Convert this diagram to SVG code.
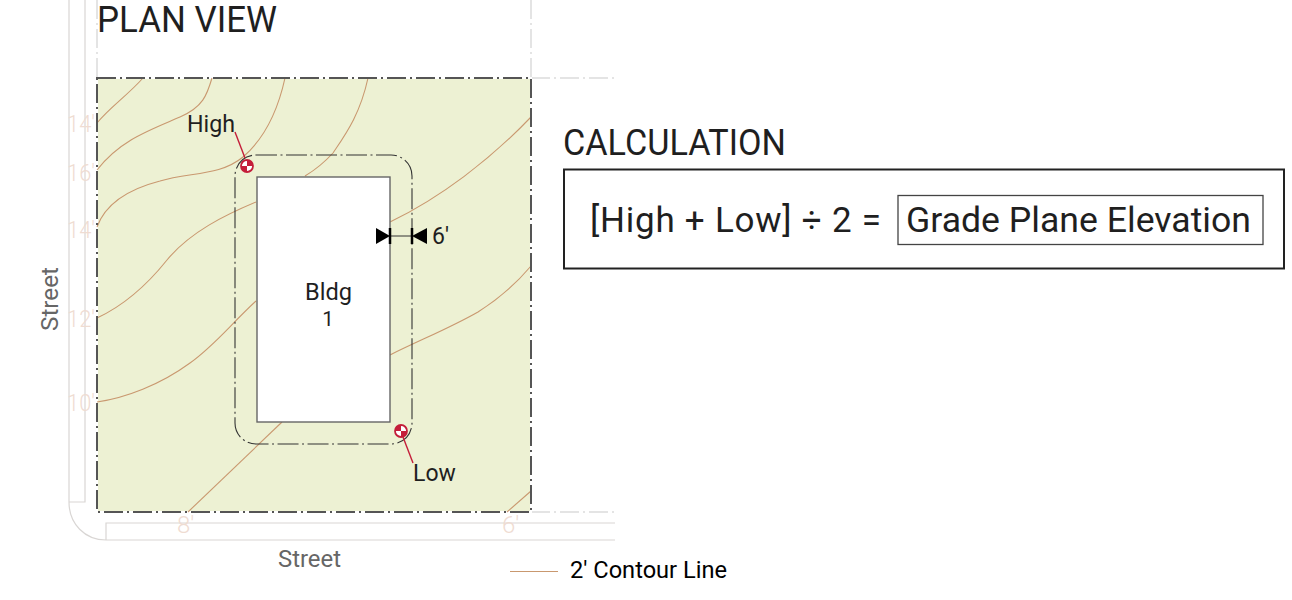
<svg xmlns="http://www.w3.org/2000/svg" width="1292" height="600" viewBox="0 0 1292 600">
<style>
text{font-family:"Roboto","Liberation Sans",sans-serif;fill:#1f1f1f}
.st{fill:none;stroke:#d9d6d4;stroke-width:1.2}
.gh{fill:none;stroke:#dcdcdc;stroke-width:1.5;stroke-dasharray:19 4 2 4}
.c{fill:none;stroke:#c9986f;stroke-width:1.1}
.el{fill:#efdcd2;font-size:24px;font-weight:300}
.r{stroke:#c41e3a;stroke-width:1.4;fill:none}
.s{fill:#666;font-size:23px}
</style>
<g id="site-context">
<path class="st" d="M69 0V502C69 524 85 540 106 540H615M85 0V502H69M106 540V523H615"/>
<path class="gh" d="M97 0V78M531 0V78M531 78H615M531 512H615"/>
</g>
<g id="lot"><rect x="97" y="78" width="434" height="434" fill="#edf1d3" stroke="#fff" stroke-width="2"/></g>
<g id="contours">
<path class="c" d="M97 123C110 107 128 95 143 78"/>
<path class="c" d="M97 170C120 140 150 130 180 117C203 107 207 95 212 78"/>
<path class="c" d="M285 78C278 110 265 138 243 157C220 176 190 172 160 181C125 190 105 205 97 227"/>
<path class="c" d="M368 78C360 115 345 135 333 153C322 165 315 170 305 176"/>
<path class="c" d="M531 117C490 160 440 198 390 222"/>
<path class="c" d="M256 202C225 215 190 232 167 260C147 285 125 305 97 318"/>
<path class="c" d="M256 301C230 325 215 345 190 363C160 385 125 398 97 402"/>
<path class="c" d="M390 355C420 340 450 328 478 312C497 300 515 285 531 266"/>
<path class="c" d="M188 512L282 422"/>
<path class="c" d="M507 512L531 491"/>
</g>
<g id="lot-boundary"><rect x="97" y="78" width="434" height="434" fill="none" stroke="#555" stroke-width="2" stroke-dasharray="19 4 2 4"/></g>
<g id="setback"><rect x="235" y="155" width="177" height="289" rx="21" fill="none" stroke="#333" stroke-width="1.1" stroke-dasharray="21 3.500 2 3.500"/></g>
<g id="bldg-1">
<rect x="257" y="177" width="133" height="245" fill="#fff" stroke="#666" stroke-width="1.4"/>
<text x="305" y="299.500" font-size="23" textLength="47" lengthAdjust="spacingAndGlyphs">Bldg</text>
<text x="328" y="325.500" font-size="20.500" text-anchor="middle">1</text>
</g>
<g id="dimension">
<path d="M390 236H412" stroke="#333" stroke-width="1"/>
<path d="M376 228L390 236L376 244ZM427 228L412 236L427 244Z" fill="#000"/>
<path d="M390 228V244M412 228V244" stroke="#000" stroke-width="2.500"/>
<text x="432" y="244" font-size="23">6'</text>
</g>
<g id="high">
<path class="r" d="M235 132L245 158"/>
<circle cx="247" cy="166" r="6" fill="#fff" stroke="#c41e3a" stroke-width="1.800"/>
<path d="M247 160A6 6 0 0 1 253 166H247ZM247 172A6 6 0 0 1 241 166H247Z" fill="#c41e3a"/>
<text x="187" y="132" font-size="23" textLength="48" lengthAdjust="spacingAndGlyphs">High</text>
</g>
<g id="low">
<path class="r" d="M403 437L413 463"/>
<circle cx="401" cy="431" r="6" fill="#fff" stroke="#c41e3a" stroke-width="1.800"/>
<path d="M401 425A6 6 0 0 0 395 431H401ZM401 437A6 6 0 0 0 407 431H401Z" fill="#c41e3a"/>
<text x="413" y="481" font-size="23">Low</text>
</g>
<g id="elevation-labels">
<text class="el" x="67" y="132" textLength="28" lengthAdjust="spacingAndGlyphs">14'</text>
<text class="el" x="67" y="181" textLength="28" lengthAdjust="spacingAndGlyphs">16'</text>
<text class="el" x="67" y="238" textLength="28" lengthAdjust="spacingAndGlyphs">14'</text>
<text class="el" x="67" y="327" textLength="28" lengthAdjust="spacingAndGlyphs">12'</text>
<text class="el" x="67" y="411" textLength="28" lengthAdjust="spacingAndGlyphs">10'</text>
<text class="el" x="177" y="533">8'</text>
<text class="el" x="502" y="533">6'</text>
</g>
<g id="street-labels">
<text class="s" x="278" y="567" textLength="63" lengthAdjust="spacingAndGlyphs">Street</text>
<text class="s" transform="translate(58 331) rotate(-90)" textLength="64" lengthAdjust="spacingAndGlyphs">Street</text>
</g>
<g id="titles">
<text x="97" y="32" font-size="36" textLength="180" lengthAdjust="spacingAndGlyphs">PLAN VIEW</text>
<text x="563" y="155" font-size="36" textLength="223" lengthAdjust="spacingAndGlyphs">CALCULATION</text>
</g>
<g id="calculation">
<rect x="564" y="169.500" width="720" height="99" fill="#fff" stroke="#222" stroke-width="2"/>
<text x="590" y="232" font-size="35" textLength="291" lengthAdjust="spacing">[High + Low] ÷ 2 =</text>
<rect x="898" y="195.500" width="365" height="49" fill="#fff" stroke="#444" stroke-width="1.300"/>
<text x="906" y="232" font-size="35" textLength="345" lengthAdjust="spacingAndGlyphs">Grade Plane Elevation</text>
</g>
<g id="legend">
<path d="M510 571.500H558" stroke="#c9986f" stroke-width="1"/>
<text x="570" y="578" font-size="23" textLength="157" lengthAdjust="spacingAndGlyphs" style="fill:#000">2' Contour Line</text>
</g>
</svg>
